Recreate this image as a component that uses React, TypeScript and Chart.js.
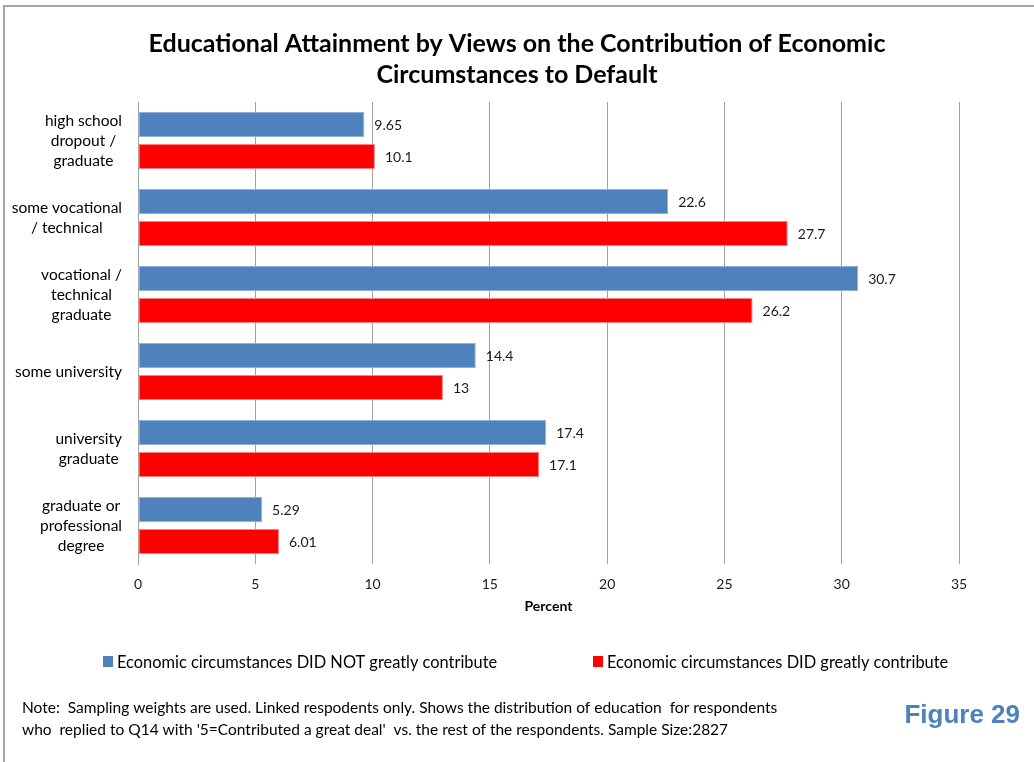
import React, { useEffect, useRef } from "react";
import { Chart, registerables } from "chart.js";

Chart.register(...registerables);

const titleLines = [
  "Educational Attainment by Views on the Contribution of Economic",
  "Circumstances to Default",
];

const categories: string[][] = [
  ["high school", "dropout /", "graduate"],
  ["some vocational", "/ technical"],
  ["vocational /", "technical", "graduate"],
  ["some university"],
  ["university", "graduate"],
  ["graduate or", "professional", "degree"],
];

const seriesNames = [
  "Economic circumstances DID NOT greatly contribute",
  "Economic circumstances DID greatly contribute",
];

const didNotValues = [9.65, 22.6, 30.7, 14.4, 17.4, 5.29];
const didValues = [10.1, 27.7, 26.2, 13, 17.1, 6.01];

const xMin = 0;
const xMax = 35;
const xStep = 5;
const xTitle = "Percent";

const noteLines = [
  "Note:  Sampling weights are used. Linked respodents only. Shows the distribution of education  for respondents",
  "who  replied to Q14 with '5=Contributed a great deal'  vs. the rest of the respondents. Sample Size:2827",
];
const figureLabel = "Figure 29";

const BLUE = "#4F81BD";
const RED = "#FF0000";
const FONT = "Lato, 'Open Sans', sans-serif";

export default function App() {
  const ref = useRef<HTMLCanvasElement | null>(null);

  useEffect(() => {
    document.body.style.margin = "0";
    document.body.style.overflow = "hidden";
    const canvas = ref.current;
    if (!canvas) return;

    const textPlugin = {
      id: "customText",
      afterDatasetsDraw(chart: any) {
        const ctx = chart.ctx;
        ctx.save();
        ctx.font = `14px ${FONT}`;
        ctx.fillStyle = "#1a1a1a";
        ctx.textBaseline = "middle";
        ctx.textAlign = "left";
        chart.data.datasets.forEach((ds: any, di: number) => {
          const meta = chart.getDatasetMeta(di);
          meta.data.forEach((el: any, i: number) => {
            ctx.fillText(String(ds.data[i]), el.x + 10, el.y + 1);
          });
        });
        ctx.restore();
      },
      afterDraw(chart: any) {
        const ctx = chart.ctx;
        const yScale = chart.scales.y;
        ctx.save();
        // category labels: each block centred on itself, right-aligned as a block
        ctx.font = `15.5px ${FONT}`;
        ctx.fillStyle = "#000";
        ctx.textBaseline = "middle";
        ctx.textAlign = "center";
        const lh = 20;
        categories.forEach((lines, i) => {
          const cy = yScale.getPixelForValue(i);
          const w = Math.max(...lines.map((l) => ctx.measureText(l).width));
          const cx = yScale.right - 16 - w / 2;
          lines.forEach((l, j) => {
            ctx.fillText(l, cx, cy + (j - (lines.length - 1) / 2) * lh);
          });
        });

        // legend
        const legendX = [103, 593];
        const legendY = 661.5;
        ctx.font = `16.4px ${FONT}`;
        ctx.textAlign = "left";
        chart.data.datasets.forEach((ds: any, di: number) => {
          ctx.fillStyle = ds.backgroundColor;
          ctx.fillRect(legendX[di], legendY - 5.5, 10, 11);
          ctx.fillStyle = "#000";
          ctx.fillText(ds.label, legendX[di] + 14, legendY + 1);
        });

        // note
        ctx.font = `15.5px ${FONT}`;
        ctx.fillStyle = "#000";
        noteLines.forEach((l, i) => {
          ctx.fillText(l, 22, 708 + i * 22);
        });

        // figure label
        ctx.font = `bold 26px 'Liberation Sans', Arial, sans-serif`;
        ctx.fillStyle = BLUE;
        ctx.textAlign = "right";
        ctx.fillText(figureLabel, 1020, 716);
        ctx.restore();
      },
    };

    const chart = new Chart(canvas, {
      type: "bar",
      data: {
        labels: categories.map((c) => c.join(" ")),
        datasets: [
          {
            label: seriesNames[0],
            data: didNotValues,
            backgroundColor: BLUE,
            borderColor: "#8fb0da",
            borderWidth: 1,
            borderSkipped: false,
            categoryPercentage: 0.83,
            barPercentage: 0.78,
          },
          {
            label: seriesNames[1],
            data: didValues,
            backgroundColor: RED,
            borderColor: "#ff8080",
            borderWidth: 1,
            borderSkipped: false,
            categoryPercentage: 0.83,
            barPercentage: 0.78,
          },
        ],
      },
      options: {
        indexAxis: "y",
        responsive: false,
        animation: false,
        devicePixelRatio: 1,
        layout: { padding: { top: 0, left: 75, right: 75, bottom: 147 } },
        plugins: {
          legend: { display: false },
          tooltip: { enabled: false },
          title: {
            display: true,
            text: titleLines,
            color: "#000",
            font: { family: FONT, size: 25, weight: "bold", lineHeight: 1.24 },
            padding: { top: 28.5, bottom: 11.5 },
          },
        },
        scales: {
          x: {
            type: "linear",
            min: xMin,
            max: xMax,
            ticks: {
              stepSize: xStep,
              color: "#1a1a1a",
              font: { family: FONT, size: 14 },
              padding: 12,
            },
            grid: { color: "#a0a0a0", lineWidth: 1, drawTicks: false },
            border: { display: false },
            title: {
              display: true,
              text: xTitle,
              color: "#000",
              font: { family: FONT, size: 14, weight: "bold" },
              padding: 0,
            },
            afterFit: (s: any) => {
              s.height = 51;
            },
          },
          y: {
            type: "category",
            ticks: { display: false },
            grid: { display: false, drawTicks: false },
            border: { display: true, color: "#a0a0a0", width: 1 },
            afterFit: (s: any) => {
              s.width = 63;
            },
          },
        },
      },
      plugins: [textPlugin],
    } as any);

    return () => chart.destroy();
  }, []);

  return (
    <div style={{ position: "relative", width: 1034, height: 762, overflow: "hidden", background: "#fff" }}>
      <div
        style={{
          position: "absolute",
          left: 3,
          top: 5,
          width: 2000,
          height: 2000,
          border: "2px solid #a6a6a6",
          pointerEvents: "none",
        }}
      />
      <canvas
        ref={ref}
        width={1034}
        height={762}
        style={{ position: "absolute", left: 0, top: 0, display: "block" }}
      />
    </div>
  );
}
